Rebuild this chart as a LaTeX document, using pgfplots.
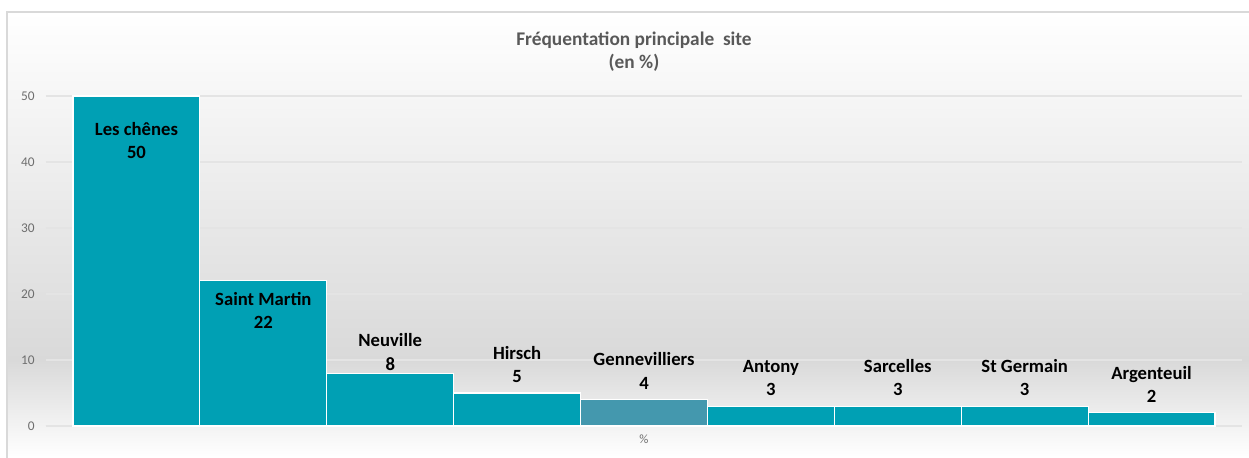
\documentclass[border=0pt]{standalone}
\usepackage{pgfplots}
\pgfplotsset{compat=1.18}
\usepackage{fontspec}
\setmainfont{Carlito}
\definecolor{teal1}{RGB}{0,160,180}
\definecolor{teal2}{RGB}{68,152,174}
\definecolor{txtgray}{RGB}{89,89,89}
\definecolor{ticgray}{RGB}{110,110,110}
\definecolor{gridgray}{RGB}{228,228,228}
\definecolor{bggray}{RGB}{217,217,217}
\begin{document}
\begin{tikzpicture}
% background and frame, 1 px = 0.75pt
\begin{scope}[x=0.75pt,y=0.75pt]
  \useasboundingbox (0,0) rectangle (1249,457);
  \shade[top color=white,bottom color=bggray] (7,97) rectangle (1249,445);
  \shade[top color=bggray,bottom color=white] (7,0) rectangle (1249,97);
  \draw[bggray,line width=1pt] (7,-5) -- (7,445) -- (1260,445);
  \node[font=\bfseries\fontsize{14.5}{17}\selectfont,text=txtgray,align=center]
    at (634,405) {Fréquentation principale\ \ site\\(en \%)};
\end{scope}
\begin{axis}[
  at={(34.5pt,23.25pt)}, anchor=south west,
  scale only axis,
  width=897pt, height=247.5pt,
  ybar, bar width=1, bar shift=0pt,
  xmin=-0.713, xmax=8.713,
  ymin=0, ymax=50,
  ytick={0,10,20,30,40,50},
  xtick=\empty,
  axis lines*=left,
  y axis line style={draw=none},
  x axis line style={gridgray,line width=0.8pt,-},
  ymajorgrids, grid style={gridgray,line width=0.8pt},
  major tick length=0pt,
  /pgf/number format/assume math mode=true,
  yticklabel style={font=\fontsize{10}{12}\selectfont,text=ticgray,xshift=-5pt},
  xlabel={\%}, xlabel style={font=\fontsize{9.5}{11}\selectfont,text=ticgray,yshift=-3pt},
  point meta=explicit symbolic,
  nodes near coords,
  every node near coord/.append style={font=\bfseries\fontsize{14}{17.5}\selectfont,text=black,align=center},
  clip=false,
]
\addplot[fill=teal1,draw=white,line width=0.8pt,
  nodes near coords style={anchor=north,yshift=-16pt}] coordinates {
  (0,50) [Les chênes\\50]
};
\addplot[fill=teal1,draw=white,line width=0.8pt,
  nodes near coords style={anchor=north,yshift=-5pt}] coordinates {
  (1,22) [Saint Martin\\22]
};
\addplot[fill=teal1,draw=white,line width=0.8pt,
  nodes near coords style={anchor=south,yshift=-1.5pt}] coordinates {
  (2,8) [Neuville\\8]
};
\addplot[fill=teal1,draw=white,line width=0.8pt,
  nodes near coords style={anchor=south,yshift=4pt}] coordinates {
  (3,5) [Hirsch\\5]
  (5,3) [Antony\\3]
  (6,3) [Sarcelles\\3]
  (7,3) [St Germain\\3]
  (8,2) [Argenteuil\\2]
};
\addplot[fill=teal2,draw=white,line width=0.8pt,
  nodes near coords style={anchor=south,yshift=4pt}] coordinates {
  (4,4) [Gennevilliers\\4]
};
\end{axis}
\end{tikzpicture}
\end{document}
